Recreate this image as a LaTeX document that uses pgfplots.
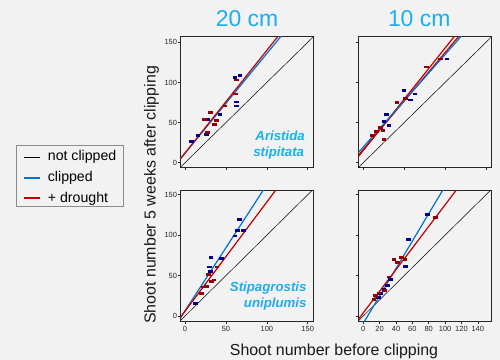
\documentclass[border=0pt]{standalone}
\usepackage{pgfplots}
\pgfplotsset{compat=1.18}
\usepackage{fontspec}
\setmainfont{Liberation Sans}
\definecolor{bg}{HTML}{F2F2F2}
\definecolor{cyantxt}{RGB}{25,175,240}
\definecolor{lblue}{RGB}{0,114,206}
\definecolor{lred}{RGB}{192,0,0}
\definecolor{pblue}{RGB}{0,0,140}
\definecolor{pred}{RGB}{150,0,0}
\pgfplotsset{
  panel/.style={
    scale only axis, width=133bp, height=131bp,
    ymin=-6, ymax=157.5,
    axis line style={black!85, line width=0.6pt},
    tick align=outside, xtick pos=bottom, ytick pos=left,
    xtick={0,50,100,150}, ytick={0,50,100,150},
    major tick length=2.5bp, tick style={black!85, line width=0.5pt},
    tick label style={font=\fontsize{7.5}{8}\selectfont, text=black!85},
    xticklabel style={inner sep=1.5bp},
    yticklabel style={inner sep=1bp},
    /pgf/number format/assume math mode=true,
    axis background/.style={fill=bg},
  },
  leftcol/.style={xmin=-5.3, xmax=157.3},
  rightcol/.style={xmin=-6.1, xmax=156.5, yticklabels={}},
  toprow/.style={ymin=-5.75, ymax=157.5, xticklabels={}},
  botrow/.style={ymin=-7, ymax=155},
  idline/.style={color=black, line width=0.5pt, forget plot},
  bline/.style={color=lblue, line width=1.2pt, forget plot},
  rline/.style={color=lred, line width=1.2pt, forget plot},
  bpts/.style={only marks, mark=square*, mark size=1.05bp, color=pblue, mark options={xscale=1.7, yscale=0.85}, forget plot},
  rpts/.style={only marks, mark=square*, mark size=1.05bp, color=pred, mark options={xscale=1.7, yscale=0.85}, forget plot},
}
\begin{document}
\begin{tikzpicture}
\fill[bg] (0,0) rectangle (500bp,360bp);
\useasboundingbox (0,0) rectangle (500bp,360bp);

% Panel 1: 20 cm, Aristida
\begin{axis}[panel, leftcol, toprow, at={(180.7bp,192.7bp)}, anchor=south west]
\addplot[idline] coordinates {(-10,-10) (170,170)};
\addplot[bline] coordinates {(-10,-0.4) (170,222.8)};
\addplot[rline] coordinates {(-10,-0.8) (170,229.6)};
\addplot[bpts] coordinates {(7.7,26.7) (15.5,33.8) (26,35.5) (26.9,54.6) (42.4,60.5) (60.7,106.7) (66.9,108.8) (62.3,75.9) (62.3,70.9)};
\addplot[rpts] coordinates {(23.2,54.6) (30.6,62.5) (26.9,38) (35.5,48.4) (37.9,52.5) (48.5,70.9) (61.5,85.9) (62.3,103.4)};
\end{axis}

% Panel 2: 10 cm, Aristida
\begin{axis}[panel, rightcol, toprow, at={(358.3bp,192.7bp)}, anchor=south west]
\addplot[idline] coordinates {(-10,-10) (170,170)};
\addplot[rline] coordinates {(-10,2.54) (170,232.2)};
\addplot[rline] coordinates {(-10,4.32) (170,221.8)};
\addplot[bline] coordinates {(-10,7.97) (170,215.5)};
\addplot[bpts] coordinates {(102,129.6) (49.4,90) (62.8,85.9) (57.1,78.4) (27.7,60.9) (24.9,51.3) (31,46.3)};
\addplot[rpts] coordinates {(93.8,129.6) (76.6,119.6) (41,75) (51.5,80) (11,34.6) (15.5,38.8) (20.5,44) (23.7,40) (24.7,29.4)};
\end{axis}

% Panel 3: 20 cm, Stipagrostis
\begin{axis}[panel, leftcol, botrow, at={(180.7bp,38.3bp)}, anchor=south west]
\addplot[idline] coordinates {(-10,-10) (170,170)};
\addplot[bline] coordinates {(-10,-9.1) (170,271.7)};
\addplot[rline] coordinates {(-10,-7.5) (170,235.5)};
\addplot[bpts] coordinates {(12.2,15.7) (66.4,120) (63.5,106.6) (70.8,105.7) (60.6,99.3) (31.6,72.3) (44,71.7) (29.3,61) (30.6,55)};
\addplot[rpts] coordinates {(38.7,61) (35.2,45) (31.8,43) (26.5,37.3) (21.8,36.3) (20,28) (28.5,52)};
\end{axis}

% Panel 4: 10 cm, Stipagrostis
\begin{axis}[panel, rightcol, botrow, at={(358.3bp,38.3bp)}, anchor=south west,
  xtick={0,20,40,60,80,100,120,140}]
\addplot[idline] coordinates {(-10,-10) (170,170)};
\addplot[bline] coordinates {(-10,-25.95) (170,279.2)};
\addplot[rline] coordinates {(-10,-9.35) (170,230.95)};
\addplot[bpts] coordinates {(78.1,126.4) (54.8,95) (51.5,62) (33.1,45.8) (29,38.4) (25,33) (20.8,28.1) (18,23.2)};
\addplot[rpts] coordinates {(88.2,122.3) (37.3,70.3) (41.3,66.5) (46.6,72.7) (50.7,70.3) (31.1,48.7) (26.2,32.2) (18.9,28.9) (12.7,21) (14.7,26)};
\end{axis}

% Legend
\draw[black!45, line width=0.5pt, fill=bg] (16.7bp,153.3bp) rectangle (123.3bp,215bp);
\fill[black] (24bp,202.6bp) rectangle (40bp,203.4bp);
\fill[lblue] (24bp,181.2bp) rectangle (40bp,183bp);
\fill[lred] (24bp,161bp) rectangle (40bp,162.8bp);
\node[anchor=base west, inner sep=0pt, font=\fontsize{14.2}{16}\selectfont] at (47.7bp,199bp) {not clipped};
\node[anchor=base west, inner sep=0pt, font=\fontsize{14.2}{16}\selectfont] at (47.7bp,178.3bp) {clipped};
\node[anchor=base west, inner sep=0pt, font=\fontsize{14.2}{16}\selectfont] at (47.7bp,157.8bp) {+ drought};

% Titles and labels
\node[anchor=base, text=cyantxt, font=\fontsize{23}{26}\selectfont] at (247bp,333.3bp) {20 cm};
\node[anchor=base, text=cyantxt, font=\fontsize{23}{26}\selectfont] at (419.2bp,333.3bp) {10 cm};
\node[anchor=base, font=\fontsize{16}{18}\selectfont, text=black!90] at (334bp,5bp) {Shoot number before clipping};
\node[anchor=base, rotate=90, font=\fontsize{16}{18}\selectfont, text=black!90] at (155.7bp,165bp) {Shoot number 5 weeks after clipping};

\node[anchor=base east, inner sep=0pt, text=cyantxt, font=\fontsize{13.3}{15}\selectfont\bfseries\itshape] at (305bp,219bp) {Aristida};
\node[anchor=base east, inner sep=0pt, text=cyantxt, font=\fontsize{13.3}{15}\selectfont\bfseries\itshape] at (304.3bp,203.3bp) {stipitata};
\node[anchor=base east, inner sep=0pt, text=cyantxt, font=\fontsize{13.3}{15}\selectfont\bfseries\itshape] at (306.7bp,68.3bp) {Stipagrostis};
\node[anchor=base east, inner sep=0pt, text=cyantxt, font=\fontsize{13.3}{15}\selectfont\bfseries\itshape] at (306.7bp,52.7bp) {uniplumis};
\end{tikzpicture}
\end{document}
